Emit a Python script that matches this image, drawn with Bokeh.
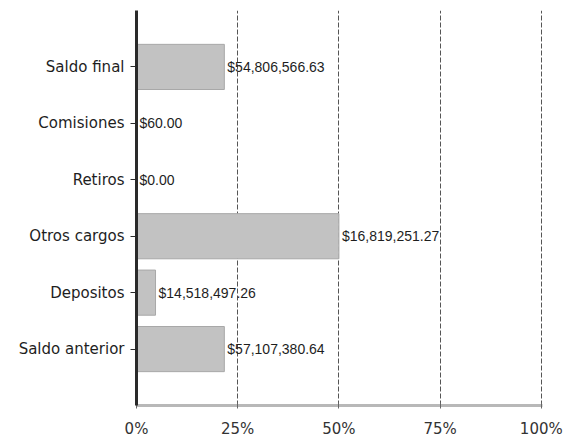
from bokeh.plotting import figure
from bokeh.models import FactorRange, Range1d, FixedTicker, NumeralTickFormatter, ColumnDataSource
from bokeh.core.properties import value
from bokeh.embed import file_html
from bokeh.resources import INLINE

categories = ["Saldo anterior", "Depositos", "Otros cargos", "Retiros", "Comisiones", "Saldo final"]
percents = [0.217, 0.047, 0.50, 0.0, 0.0, 0.217]
amount_labels = ["$57,107,380.64", "$14,518,497.26", "$16,819,251.27", "$0.00", "$60.00", "$54,806,566.63"]
x_ticks = [0, 0.25, 0.5, 0.75, 1.0]

src = ColumnDataSource(dict(cat=categories, pct=percents, lab=amount_labels))

p = figure(width=566, height=440, output_backend="svg", toolbar_location=None,
           y_range=FactorRange(factors=categories, range_padding=0.5, range_padding_units="absolute"),
           x_range=Range1d(0, 1.003),
           min_border_left=136, min_border_right=24, min_border_top=10, min_border_bottom=35)
p.outline_line_color = None
p.background_fill_color = "white"
p.border_fill_color = "white"

p.hbar(y="cat", right="pct", left=0, height=0.8, source=src,
       fill_color="#c2c2c2", line_color="#a8a8a8", line_width=1)

p.text(x="pct", y="cat", text="lab", source=src, x_offset=3,
       text_font=value("Liberation Sans"), text_font_size="14px",
       text_color="#1e1e1e", text_align="left", text_baseline="middle")

p.xaxis.ticker = FixedTicker(ticks=x_ticks)
p.xaxis.formatter = NumeralTickFormatter(format="0%")
p.xaxis.axis_line_color = "#b8b8b8"
p.xaxis.axis_line_width = 3
p.xaxis.major_tick_line_color = "#666666"
p.xaxis.major_tick_out = 3
p.xaxis.major_tick_in = 3
p.xaxis.minor_tick_line_color = None
p.xaxis.major_label_text_font = "DejaVu Sans"
p.xaxis.major_label_text_font_size = "15px"
p.xaxis.major_label_text_color = "#333333"
p.xaxis.major_label_standoff = 11

p.yaxis.axis_line_color = "#2a2a2a"
p.yaxis.axis_line_width = 3
p.yaxis.major_tick_line_color = "#2a2a2a"
p.yaxis.major_tick_out = 6
p.yaxis.major_tick_in = 0
p.yaxis.major_label_text_font = "DejaVu Sans"
p.yaxis.major_label_text_font_size = "15px"
p.yaxis.major_label_text_color = "#1e1e1e"
p.yaxis.major_label_standoff = 6

p.xgrid.ticker = FixedTicker(ticks=x_ticks[1:])
p.xgrid.grid_line_color = "#555555"
p.xgrid.grid_line_dash = "5 2"
p.xgrid.grid_line_width = 1
p.ygrid.grid_line_color = None

open("out.html", "w").write(file_html(p, INLINE))
